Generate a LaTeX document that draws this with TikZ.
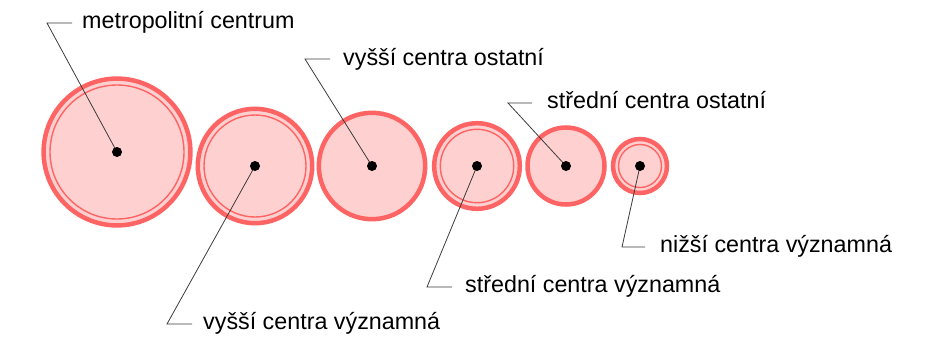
\documentclass[tikz,border=0pt]{standalone}
\usepackage{fontspec}
\setmainfont{Liberation Sans}
\definecolor{ringred}{RGB}{255,100,100}
\definecolor{ringfill}{RGB}{255,208,208}
\definecolor{leader}{RGB}{60,60,60}
\begin{document}
\begin{tikzpicture}[x=1pt,y=-1pt,
  outer/.style={draw=ringred,line width=4.5pt,fill=ringfill},
  innerring/.style={draw=ringred,line width=1.4pt},
  centre/.style={circle,fill=black,inner sep=0pt,minimum size=10pt},
  lbl/.style={anchor=base west,inner sep=0pt,font=\fontsize{23.3}{26}\selectfont},
  lead/.style={draw=leader,line width=0.8pt}]
\useasboundingbox (0,0) rectangle (941,340);
% circles
\draw[outer] (117,152) circle[radius=73.4];
\draw[innerring] (117,152) circle[radius=67];
\draw[outer] (255,166) circle[radius=57.2];
\draw[innerring] (255,166) circle[radius=51];
\draw[outer] (372,166) circle[radius=53.2];
\draw[outer] (477,166) circle[radius=42.8];
\draw[innerring] (477,166) circle[radius=36.7];
\draw[outer] (566,166) circle[radius=38.5];
\draw[outer] (640,166) circle[radius=27];
\draw[innerring] (640,166) circle[radius=21.5];
% centres
\coordinate (c1) at (117,152);
\coordinate (c2) at (255,166);
\coordinate (c3) at (372,166);
\coordinate (c4) at (477,166);
\coordinate (c5) at (566,166);
\coordinate (c6) at (640,166);
% leader corners
\coordinate (k1) at (47,23);   \coordinate (e1) at (72,23);
\coordinate (k3) at (305,59);  \coordinate (e3) at (330,59);
\coordinate (k5) at (508,103); \coordinate (e5) at (532,103);
\coordinate (k2) at (167,324); \coordinate (e2) at (192,324);
\coordinate (k4) at (427,287); \coordinate (e4) at (452,287);
\coordinate (k6) at (622,247); \coordinate (e6) at (645,247);
\draw[lead] (c1) -- (k1) -- (e1);
\draw[lead] (c3) -- (k3) -- (e3);
\draw[lead] (c5) -- (k5) -- (e5);
\draw[lead] (c2) -- (k2) -- (e2);
\draw[lead] (c4) -- (k4) -- (e4);
\draw[lead] (c6) -- (k6) -- (e6);
\node[centre] (d1) at (c1) {};
\node[centre] (d2) at (c2) {};
\node[centre] (d3) at (c3) {};
\node[centre] (d4) at (c4) {};
\node[centre] (d5) at (c5) {};
\node[centre] (d6) at (c6) {};
% labels
\node[lbl] (t1) at (82,28.5) {metropolitní centrum};
\node[lbl] (t3) at (343,65) {vyšší centra ostatní};
\node[lbl] (t5) at (547,108.5) {střední centra ostatní};
\node[lbl] (t2) at (203,329) {vyšší centra významná};
\node[lbl] (t4) at (465,292) {střední centra významná};
\node[lbl] (t6) at (660,252) {nižší centra významná};
\end{tikzpicture}
\end{document}
